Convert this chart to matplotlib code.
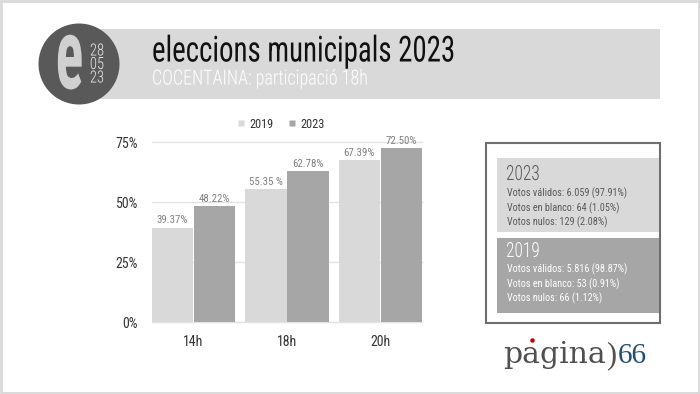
import numpy as np
import matplotlib
matplotlib.use('Agg')
import matplotlib.pyplot as plt
import matplotlib.font_manager as fm
import matplotlib.patheffects as pe
from matplotlib.transforms import Affine2D
from matplotlib.patches import Rectangle, Circle
from matplotlib.lines import Line2D

# ---------------- data ----------------
categories = ['14h', '18h', '20h']
years = ['2019', '2023']
values_2019 = [39.37, 55.35, 67.39]
values_2023 = [48.22, 62.78, 72.50]
labels_2019 = ['39.37%', '55.35 %', '67.39%']
labels_2023 = ['48.22%', '62.78%', '72.50%']
yticks = [0, 25, 50, 75]
ytick_labels = ['0%', '25%', '50%', '75%']

title = 'eleccions municipals 2023'
subtitle = 'COCENTAINA: participació 18h'
logo_letter = 'e'
date_parts = ['28', '05', '23']
box_2023_title = '2023'
box_2023_lines = ['Votos válidos: 6.059 (97.91%)',
                  'Votos en blanco: 64 (1.05%)',
                  'Votos nulos: 129 (2.08%)']
box_2019_title = '2019'
box_2019_lines = ['Votos válidos: 5.816 (98.87%)',
                  'Votos en blanco: 53 (0.91%)',
                  'Votos nulos: 66 (1.12%)']

# ---------------- fonts ----------------
ttf = fm.fontManager.ttflist
names = {f.name for f in ttf}
COND = None
for fam in ['Roboto Condensed', 'Liberation Sans Narrow', 'Open Sans Condensed',
            'Noto Sans Condensed', 'DejaVu Sans Condensed']:
    if fam in names:
        COND = dict(family=fam)
        break
if COND is None:
    if any(f.name == 'DejaVu Sans' and str(f.stretch) == 'condensed' for f in ttf):
        COND = dict(family='DejaVu Sans', stretch='condensed')
    else:
        COND = dict(family='DejaVu Sans')

C2019 = '#d9d9d9'
C2023 = '#a6a6a6'
W, H = 700, 394


class Stretch(pe.AbstractPathEffect):
    """Scale the glyph outlines of a text around an anchor point (display px)."""
    def __init__(self, sx, sy, cx, cy):
        super().__init__()
        self.t = Affine2D().translate(-cx, -cy).scale(sx, sy).translate(cx, cy)

    def draw_path(self, renderer, gc, tpath, affine, rgbFace=None):
        renderer.draw_path(gc, tpath, affine + self.t, rgbFace)


def tall(x, y, sy, sx=1.0):
    return [Stretch(sx, sy, x, H - y)]


fig = plt.figure(figsize=(7, 3.94), dpi=100)
fig.patch.set_facecolor('white')

# overlay axes in pixel coordinates
bg = fig.add_axes([0, 0, 1, 1], zorder=0)
bg.set_xlim(0, W)
bg.set_ylim(H, 0)
bg.axis('off')

bg.add_patch(Rectangle((1, 1), 697.5, 391.5, fill=False, ec='#d9d9d9', lw=2))
# header band
bg.add_patch(Rectangle((100, 29), 560, 70, fc='#d9d9d9', ec='none'))
bg.add_patch(Circle((79, 64), 40.5, fc='#595959', ec='none'))
e_x, e_base = 69.5, 88.5
bg.text(e_x, e_base, logo_letter, ha='center', va='baseline', fontsize=40,
        color='#d0d0d0', fontweight='bold', **COND,
        path_effects=tall(e_x, e_base, 1.8, 1.04))
for i, d in enumerate(date_parts):
    yb = 55.5 + i * 13.5
    bg.text(97, yb, d, ha='center', va='baseline', fontsize=10.5,
            color='#e8e8e8', fontweight='light', **COND,
            path_effects=tall(97, yb, 1.15))
bg.text(152, 61.5, title, ha='left', va='baseline', fontsize=20.8, color='#111111',
        **COND, path_effects=tall(152, 61.5, 1.24))
bg.text(152, 84.5, subtitle, ha='left', va='baseline', fontsize=13, color='white',
        fontweight='light', **COND, path_effects=tall(152, 84.5, 1.15))

# right info box
bg.add_patch(Rectangle((486, 143), 174, 180, fc='white', ec='#6e6e6e', lw=1.5))
bg.add_patch(Rectangle((497, 158), 162, 74, fc=C2019, ec='none'))
bg.add_patch(Rectangle((497, 238), 162, 75, fc=C2023, ec='none'))
bg.text(506, 180, box_2023_title, ha='left', va='baseline', fontsize=12.5,
        color='#595959', fontweight='light', **COND, path_effects=tall(506, 180, 1.2))
for i, s in enumerate(box_2023_lines):
    bg.text(507, 196.5 + i * 14.5, s, ha='left', va='baseline', fontsize=7.3,
            color='#595959', **COND)
bg.text(506, 257, box_2019_title, ha='left', va='baseline', fontsize=12.5,
        color='white', fontweight='light', **COND, path_effects=tall(506, 257, 1.2))
for i, s in enumerate(box_2019_lines):
    bg.text(507, 272.5 + i * 14.5, s, ha='left', va='baseline', fontsize=7.3,
            color='white', **COND)

# logo
bg.text(503, 363, 'pagina', ha='left', va='baseline', fontsize=21.5, color='#505050',
        family='DejaVu Serif')
bg.plot([532], [339.5], 'o', ms=3.2, color='#c00000', mec='none')
bg.text(606.5, 363, ')', ha='left', va='baseline', fontsize=22, color='#505050',
        family='Liberation Serif')
bg.text(618, 363, '66', ha='left', va='baseline', fontsize=21, color='#1f4e6e',
        family='Liberation Serif')

# ---------------- chart ----------------
ax = fig.add_axes([152 / W, (H - 322) / H, 270 / W, 180 / H], zorder=2)
ax.patch.set_alpha(0)
x = np.arange(len(categories))
w = 0.44
off = 0.225
ax.bar(x - off, values_2019, w, color=C2019, label=years[0], zorder=2)
ax.bar(x + off, values_2023, w, color=C2023, label=years[1], zorder=2)
for xi, v, s in zip(x - off, values_2019, labels_2019):
    ax.text(xi, v + 0.9, s, ha='center', va='bottom', fontsize=7.8, color='#808080', **COND)
for xi, v, s in zip(x + off, values_2023, labels_2023):
    ax.text(xi, v + 0.9, s, ha='center', va='bottom', fontsize=7.8, color='#808080', **COND)

ax.set_xlim(-0.445, 2.445)
ax.set_ylim(0, 75)
ax.set_yticks(yticks)
ax.set_yticklabels(ytick_labels, fontsize=10, color='#333333', **COND)
ax.set_xticks(x)
ax.set_xticklabels(categories, fontsize=10, color='#333333', **COND)
ax.yaxis.grid(True, color='#e3e3e3', lw=1, zorder=0)
for gl in ax.get_ygridlines():
    gl.set_clip_on(False)
ax.set_axisbelow(True)
for sp in ax.spines.values():
    sp.set_visible(False)
ax.tick_params(axis='both', length=0)
ax.tick_params(axis='y', pad=10)
ax.tick_params(axis='x', pad=9)

handles = [Line2D([], [], marker='s', ls='none', ms=4.5, color=C2019, mec='none'),
           Line2D([], [], marker='s', ls='none', ms=4.5, color=C2023, mec='none')]
leg = fig.legend(handles, years, loc='center', bbox_to_anchor=(281 / W, 1 - 124 / H),
                 ncol=2, frameon=False, handlelength=0.6, handletextpad=0.4,
                 columnspacing=1.2, prop=fm.FontProperties(size=8.8, **COND))
for t in leg.get_texts():
    t.set_color('#333333')

fig.savefig('out.png', dpi=100, facecolor='white')
